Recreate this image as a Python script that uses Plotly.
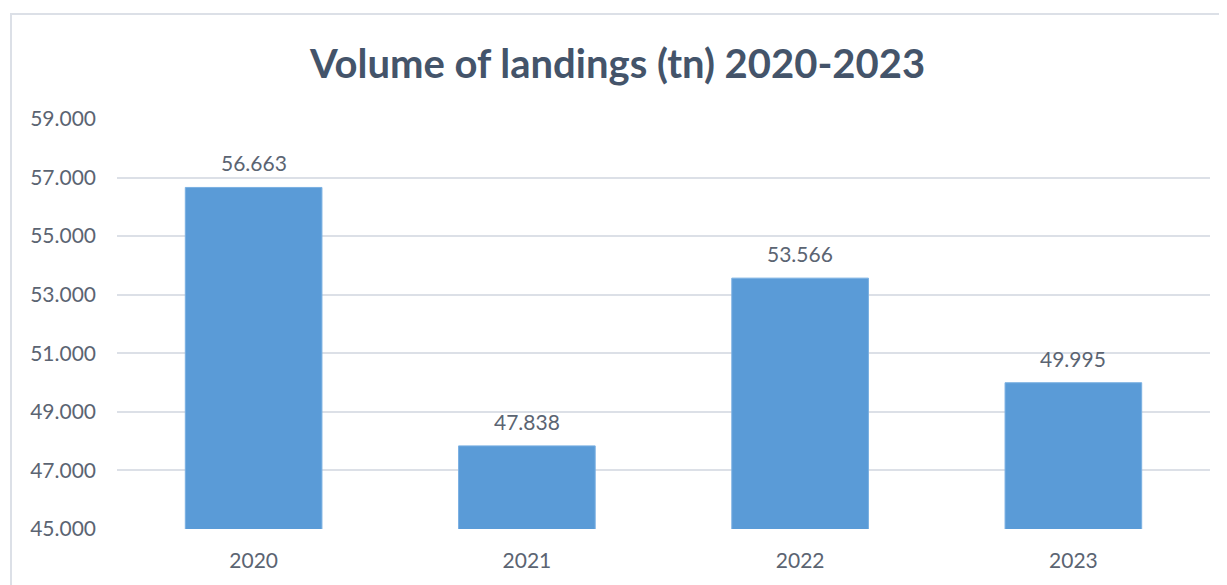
import plotly.graph_objects as go

years = ["2020", "2021", "2022", "2023"]
landings = [56663, 47838, 53566, 49995]
y_ticks = [45000, 47000, 49000, 51000, 53000, 55000, 57000, 59000]

TEXT = "#44546A"
TICK = "#5B6472"
GRID = "#DCE0E7"
FONT = "Lato"

fig = go.Figure()
fig.add_trace(go.Bar(
    x=years, y=landings,
    marker=dict(color="#5A9BD7", line=dict(color="#7AB0E2", width=1)),
    hoverinfo="x+y",
))

for i, v in enumerate(landings):
    fig.add_annotation(x=i, y=v, text=f"{v:,}".replace(",", "."),
                       showarrow=False, yanchor="bottom", yshift=10,
                       font=dict(family=FONT, size=21, color=TICK))

fig.add_shape(type="rect", xref="paper", yref="paper",
              x0=-0.097, x1=1.2, y0=-0.3, y1=1.256,
              line=dict(color=GRID, width=2), fillcolor="rgba(0,0,0,0)", layer="below")

fig.update_layout(
    width=1219, height=577,
    margin=dict(l=109, r=17, t=111, b=56, autoexpand=False),
    paper_bgcolor="white", plot_bgcolor="white",
    separators=",.",
    bargap=0.5,
    showlegend=False,
    title=dict(text="<b>Volume of landings (tn) 2020-2023</b>", x=0.5, xanchor="center",
               y=0.903, yanchor="middle",
               font=dict(family=FONT, size=40, color=TEXT)),
    xaxis=dict(type="category", range=[-0.5, 3.5], autorange=False,
               showgrid=False, showline=False, ticks="", ticklabelstandoff=17,
               tickfont=dict(family=FONT, size=21, color=TICK)),
    yaxis=dict(range=[45000, 59000], autorange=False, tickvals=y_ticks, tickformat=",d",
               showgrid=True, gridcolor=GRID, gridwidth=2, zeroline=False,
               showline=False, ticks="", ticklabelstandoff=20,
               tickfont=dict(family=FONT, size=21, color=TICK)),
)

fig.write_html("out.html")
